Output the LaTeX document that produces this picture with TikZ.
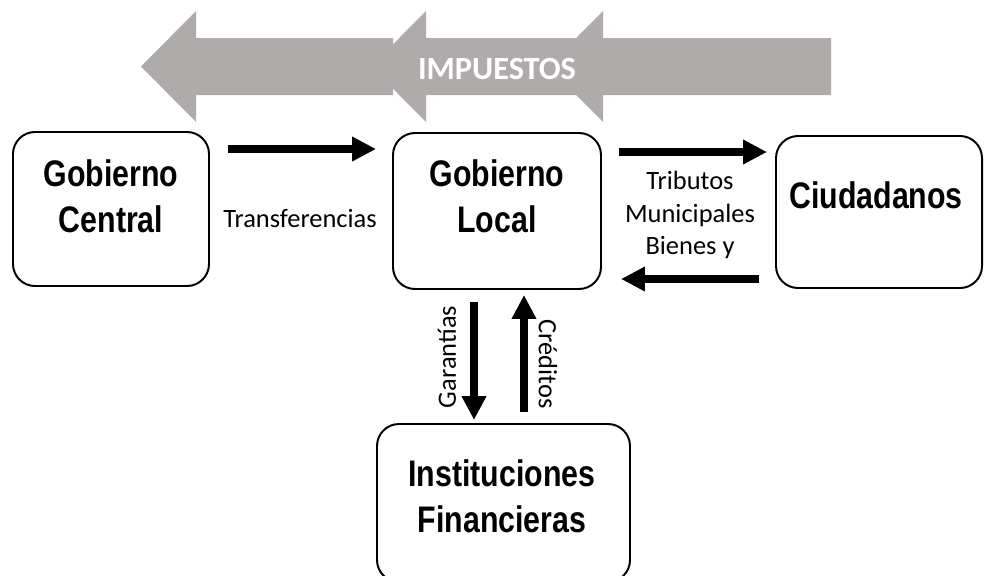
\documentclass[tikz,border=0pt]{standalone}
\usepackage{fontspec}
\setmainfont{Carlito}
\newfontfamily\boxfont[FakeStretch=0.82]{Liberation Sans Bold}
\usetikzlibrary{arrows.meta,calc}
\definecolor{impgrey}{RGB}{175,171,171}
\def\bigarrow(#1:#2:#3){\fill[impgrey] (#1, 66.5) -- (#2, 11) -- (#2, 38) -- (#3, 38) -- (#3, 95) -- (#2, 95) -- (#2, 122) -- cycle;}
\tikzset{
	box/.style={draw, line width=1.4pt, rounded corners=0.55cm, inner sep=0pt},
	boxtitle/.style={font=\boxfont\fontsize{26.3}{32.7}\selectfont, align=center},
	flowtext/.style={font=\fontsize{18.8}{22.8}\selectfont, align=center},
	flow/.style={line width=5.7pt, -{Triangle[length=17pt, width=16.5pt]}}
}

\begin{document}
\begin{tikzpicture}[x=0.025cm, y=-0.025cm]
		%%%%% START %%%%%
		\useasboundingbox (0, 0) rectangle (984, 575);
		
		% impuestos
		\bigarrow(548:603:831)
		\bigarrow(371:426:576)
		\bigarrow(141:196:393)
		\node[text=white, font=\bfseries\fontsize{23}{27}\selectfont] (impuestos) at (497, 69) {IMPUESTOS};
		
		% boxes
		\node[box, minimum width=196*0.025cm, minimum height=154*0.025cm] (central) at (111, 209) {};
		\node[boxtitle] (centraltxt) at (111, 196) {Gobierno\\Central};
		
		\node[box, minimum width=208*0.025cm, minimum height=156*0.025cm] (local) at (497, 211) {};
		\node[boxtitle] (localtxt) at (497, 196) {Gobierno\\Local};
		
		\node[box, minimum width=206*0.025cm, minimum height=152*0.025cm] (ciudad) at (879, 212) {};
		\node[boxtitle] (ciudadtxt) at (876, 195) {Ciudadanos};
		
		\node[box, minimum width=253*0.025cm, minimum height=158*0.025cm] (financ) at (503.5, 503) {};
		\node[boxtitle] (financtxt) at (502, 496) {Instituciones\\Financieras};
		
		% arrows
		\coordinate (transA) at (228, 149);
		\coordinate (transB) at (376, 149);
		\coordinate (tribA) at (619, 152);
		\coordinate (tribB) at (767, 152);
		\coordinate (bienA) at (759, 279);
		\coordinate (bienB) at (621, 279);
		\coordinate (garA) at (474, 302);
		\coordinate (garB) at (474, 420);
		\coordinate (credA) at (524, 412);
		\coordinate (credB) at (524, 295);
		
		\draw[flow] (transA) -- (transB);
		\draw[flow] (tribA) -- (tribB);
		\draw[flow] (bienA) -- (bienB);
		\draw[flow] (garA) -- (garB);
		\draw[flow] (credA) -- (credB);
		
		% labels
		\node[flowtext] (translbl) at (300, 218) {Transferencias};
		\node[flowtext] (triblbl) at (690, 215) {Tributos\\Municipales\\Bienes y};
		\node[flowtext, rotate=90] (garlbl) at (447, 357) {Garantías};
		\node[flowtext, rotate=-90] (credlbl) at (548, 364) {Créditos};
		
		%%%%% END %%%%%
	\end{tikzpicture}
\end{document}
